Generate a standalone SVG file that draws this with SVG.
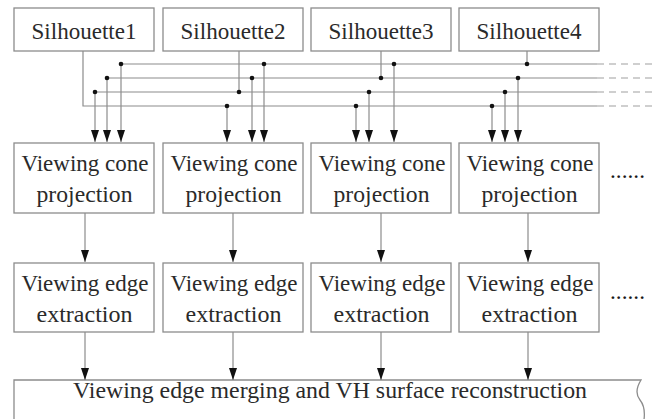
<svg xmlns="http://www.w3.org/2000/svg" width="652" height="419" viewBox="0 0 652 419">
  <style>
    .box { fill: #ffffff; stroke: #8c8c8c; stroke-width: 1.3; }
    .lbl { font-family: "Liberation Serif", "Times New Roman", serif; font-size: 23px; fill: #2a2a2a; text-anchor: middle; }
    .dots { font-family: "Liberation Serif", "Times New Roman", serif; font-size: 23px; fill: #1a1a1a; }
    .ln { fill: none; stroke: #8c8c8c; stroke-width: 1.2; }
    .arr { fill: none; stroke: #8c8c8c; stroke-width: 1.2; marker-end: url(#ah); }
    .dash { fill: none; stroke: #a0a0a0; stroke-width: 1.2; stroke-dasharray: 7 5; }
    .dot { fill: #111111; }
  </style>
  <defs>
    <marker id="ah" markerUnits="userSpaceOnUse" markerWidth="12" markerHeight="8" refX="12" refY="4" orient="auto">
      <path d="M0,0 L12,4 L0,8 z" fill="#111111"/>
    </marker>
  </defs>
  <rect width="652" height="419" fill="#ffffff"/>

  <g id="sil1"><rect class="box" x="14" y="8" width="140" height="43"/><text class="lbl" x="84" y="39" textLength="105" lengthAdjust="spacingAndGlyphs">Silhouette1</text></g>
  <g id="sil2"><rect class="box" x="163" y="8" width="140" height="43"/><text class="lbl" x="233" y="39" textLength="105" lengthAdjust="spacingAndGlyphs">Silhouette2</text></g>
  <g id="sil3"><rect class="box" x="311" y="8" width="140" height="43"/><text class="lbl" x="381" y="39" textLength="105" lengthAdjust="spacingAndGlyphs">Silhouette3</text></g>
  <g id="sil4"><rect class="box" x="459" y="8" width="140" height="43"/><text class="lbl" x="529" y="39" textLength="105" lengthAdjust="spacingAndGlyphs">Silhouette4</text></g>

  <g id="cone1"><rect class="box" x="14" y="143" width="140" height="70"/><text class="lbl" x="85" y="171" textLength="127" lengthAdjust="spacingAndGlyphs">Viewing cone</text><text class="lbl" x="84.5" y="202" textLength="96" lengthAdjust="spacingAndGlyphs">projection</text></g>
  <g id="cone2"><rect class="box" x="163" y="143" width="140" height="70"/><text class="lbl" x="234" y="171" textLength="127" lengthAdjust="spacingAndGlyphs">Viewing cone</text><text class="lbl" x="233.5" y="202" textLength="96" lengthAdjust="spacingAndGlyphs">projection</text></g>
  <g id="cone3"><rect class="box" x="311" y="143" width="140" height="70"/><text class="lbl" x="382" y="171" textLength="127" lengthAdjust="spacingAndGlyphs">Viewing cone</text><text class="lbl" x="381.5" y="202" textLength="96" lengthAdjust="spacingAndGlyphs">projection</text></g>
  <g id="cone4"><rect class="box" x="459" y="143" width="140" height="70"/><text class="lbl" x="530" y="171" textLength="127" lengthAdjust="spacingAndGlyphs">Viewing cone</text><text class="lbl" x="529.5" y="202" textLength="96" lengthAdjust="spacingAndGlyphs">projection</text></g>
  <g id="more-cone"><text class="dots" x="610" y="178" textLength="35" lengthAdjust="spacingAndGlyphs">......</text></g>

  <g id="edge1"><rect class="box" x="14" y="263" width="140" height="69"/><text class="lbl" x="85" y="291" textLength="127" lengthAdjust="spacingAndGlyphs">Viewing edge</text><text class="lbl" x="84.5" y="322" textLength="96" lengthAdjust="spacingAndGlyphs">extraction</text></g>
  <g id="edge2"><rect class="box" x="163" y="263" width="140" height="69"/><text class="lbl" x="234" y="291" textLength="127" lengthAdjust="spacingAndGlyphs">Viewing edge</text><text class="lbl" x="233.5" y="322" textLength="96" lengthAdjust="spacingAndGlyphs">extraction</text></g>
  <g id="edge3"><rect class="box" x="311" y="263" width="140" height="69"/><text class="lbl" x="382" y="291" textLength="127" lengthAdjust="spacingAndGlyphs">Viewing edge</text><text class="lbl" x="381.5" y="322" textLength="96" lengthAdjust="spacingAndGlyphs">extraction</text></g>
  <g id="edge4"><rect class="box" x="459" y="263" width="140" height="69"/><text class="lbl" x="530" y="291" textLength="127" lengthAdjust="spacingAndGlyphs">Viewing edge</text><text class="lbl" x="529.5" y="322" textLength="96" lengthAdjust="spacingAndGlyphs">extraction</text></g>
  <g id="more-edge"><text class="dots" x="610" y="299" textLength="35" lengthAdjust="spacingAndGlyphs">......</text></g>

  <g id="merge">
    <path class="box" d="M14,425 V380 H641 C636,388 636,395 640,400 C644,405 646,412 643,425"/>
    <text class="lbl" x="330" y="398" textLength="514" lengthAdjust="spacingAndGlyphs">Viewing edge merging and VH surface reconstruction</text>
  </g>

  <g id="connectors">
    <path class="ln" d="M83,51 V106 H597"/>
    <path class="ln" d="M95,92 H597"/>
    <path class="ln" d="M107,78 H597"/>
    <path class="ln" d="M121,64 H597"/>
    <path class="dash" d="M597,64 H652 M597,78 H652 M597,92 H652 M597,106 H652"/>
    <path class="ln" d="M239,51 V92"/>
    <path class="ln" d="M381,51 V78"/>
    <path class="ln" d="M527,51 V64"/>
    <circle class="dot" cx="239" cy="92" r="2.3"/>
    <circle class="dot" cx="381" cy="78" r="2.3"/>
    <circle class="dot" cx="527" cy="64" r="2.3"/>
    <path class="arr" d="M95,92 V142"/><circle class="dot" cx="95" cy="92" r="2.3"/>
    <path class="arr" d="M107,78 V142"/><circle class="dot" cx="107" cy="78" r="2.3"/>
    <path class="arr" d="M121,64 V142"/><circle class="dot" cx="121" cy="64" r="2.3"/>
    <path class="arr" d="M227,106 V142"/><circle class="dot" cx="227" cy="106" r="2.3"/>
    <path class="arr" d="M252,78 V142"/><circle class="dot" cx="252" cy="78" r="2.3"/>
    <path class="arr" d="M264,64 V142"/><circle class="dot" cx="264" cy="64" r="2.3"/>
    <path class="arr" d="M356,106 V142"/><circle class="dot" cx="356" cy="106" r="2.3"/>
    <path class="arr" d="M369,92 V142"/><circle class="dot" cx="369" cy="92" r="2.3"/>
    <path class="arr" d="M394,64 V142"/><circle class="dot" cx="394" cy="64" r="2.3"/>
    <path class="arr" d="M492,106 V142"/><circle class="dot" cx="492" cy="106" r="2.3"/>
    <path class="arr" d="M505,92 V142"/><circle class="dot" cx="505" cy="92" r="2.3"/>
    <path class="arr" d="M518,78 V142"/><circle class="dot" cx="518" cy="78" r="2.3"/>
    <path class="arr" d="M85,213 V262"/>
    <path class="arr" d="M233,213 V262"/>
    <path class="arr" d="M381,213 V262"/>
    <path class="arr" d="M528,213 V262"/>
    <path class="arr" d="M85,332 V380"/>
    <path class="arr" d="M233,332 V380"/>
    <path class="arr" d="M381,332 V380"/>
    <path class="arr" d="M528,332 V380"/>
  </g>
</svg>
